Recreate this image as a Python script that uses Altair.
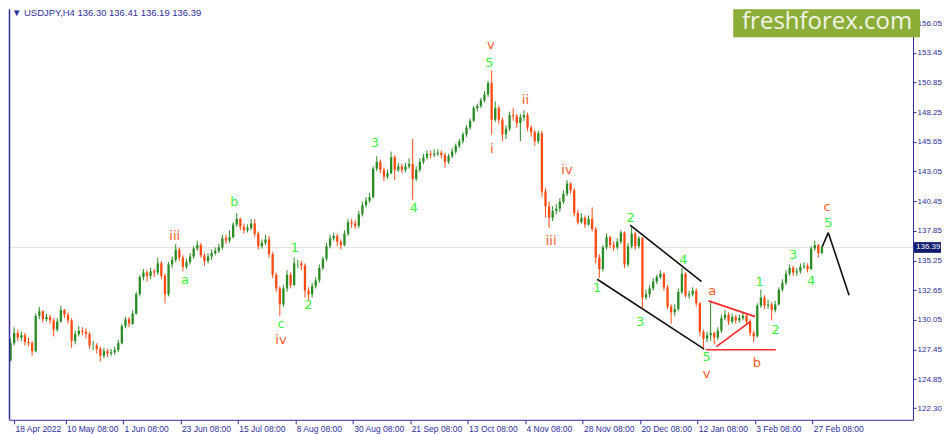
import altair as alt
import pandas as pd

# ---------------- data (daily candles) ----------------
first_open = 126.5
closes = [
    128.0, 128.9, 128.5, 128.7, 128.1, 128.0, 127.3, 130.4, 130.8, 130.1,
    130.3, 130.0, 129.2, 129.9, 130.9, 130.5, 130.0, 128.2, 128.8, 129.1,
    129.0, 128.8, 127.8, 127.8, 127.5, 126.9, 127.3, 127.1, 127.2, 127.4,
    128.0, 129.5, 130.1, 129.7, 130.6, 132.3, 133.8, 134.2, 133.9, 134.3,
    134.2, 135.0, 133.9, 132.3, 134.9, 135.3, 136.2, 135.5, 134.7, 135.1,
    135.6, 136.3, 136.6, 135.7, 135.2, 135.6, 135.9, 136.1, 136.4, 137.2,
    137.0, 137.3, 138.4, 138.9, 138.2, 137.9, 138.1, 138.5, 137.6, 136.5,
    136.8, 137.1, 135.8, 134.0, 132.8, 131.4, 132.8, 134.0, 133.1, 135.0,
    135.0, 134.8, 132.6, 132.3, 133.0, 133.5, 134.6, 135.4, 136.5, 137.2,
    137.4, 136.9, 136.6, 137.6, 138.6, 138.5, 138.3, 139.3, 140.1, 140.5,
    140.8, 143.3, 143.9, 143.2, 142.6, 142.9, 144.3, 143.2, 143.5, 143.2,
    143.5, 143.7, 142.4, 143.2, 143.9, 144.3, 144.6, 144.5, 144.6, 144.7,
    144.5, 143.9, 144.4, 144.8, 145.3, 145.7, 146.3, 146.9, 147.5, 148.6,
    148.8, 149.3, 149.8, 150.8, 147.6, 148.6, 147.6, 146.3, 146.8, 148.0,
    147.9, 147.3, 147.8, 148.0, 146.9, 146.5, 145.7, 146.4, 141.3, 140.0,
    139.0, 139.6, 139.8, 140.4, 141.1, 142.0, 141.4, 139.4, 138.6, 139.0,
    138.4, 138.9, 138.0, 135.5, 134.5, 136.4, 137.3, 136.6, 136.4, 136.9,
    137.7, 134.9, 136.5, 137.6, 136.5, 137.2, 132.0, 132.3, 132.8, 133.4,
    133.8, 134.1, 132.9, 131.2, 130.7, 131.0, 132.5, 134.1, 132.2, 132.3,
    132.6, 131.5, 129.0, 128.4, 128.7, 128.9, 128.5, 129.1, 130.2, 130.5,
    129.9, 130.3, 130.0, 130.2, 130.4, 129.9, 128.9, 128.6, 131.3, 132.0,
    131.3, 131.4, 130.9, 131.4, 132.7, 133.3, 134.1, 134.6, 134.2, 134.3,
    134.7, 134.8, 134.5, 136.3, 136.6, 135.9, 136.39,
]
highs = [
    128.4, 129.4, 129.2, 129.0, 128.9, 128.5, 128.2, 130.6, 131.2, 130.9,
    130.6, 130.5, 130.2, 130.2, 131.3, 131.0, 130.7, 130.2, 129.1, 129.5,
    129.4, 129.3, 129.0, 128.2, 128.0, 127.7, 127.6, 127.5, 127.5, 127.7,
    128.3, 129.7, 130.3, 130.3, 130.9, 132.5, 134.0, 134.5, 134.4, 134.6,
    134.5, 135.5, 135.2, 134.1, 135.1, 135.6, 136.7, 136.4, 135.7, 135.4,
    135.9, 136.5, 137.0, 136.8, 135.9, 135.9, 136.2, 136.4, 136.7, 137.5,
    137.5, 137.9, 138.6, 139.4, 139.0, 138.5, 138.4, 138.9, 138.9, 137.8,
    137.1, 137.5, 137.4, 136.0, 134.2, 133.0, 133.1, 134.4, 134.2, 135.5,
    135.3, 135.2, 135.0, 132.9, 133.3, 133.8, 134.9, 135.6, 136.8, 137.5,
    137.7, 137.6, 137.1, 137.9, 138.9, 138.9, 138.8, 139.6, 140.4, 140.8,
    141.2, 143.5, 144.4, 144.1, 143.4, 143.2, 144.8, 144.5, 143.8, 143.7,
    143.8, 144.2, 145.9, 143.5, 144.2, 144.6, 144.9, 144.9, 145.0, 145.0,
    144.9, 144.7, 144.6, 145.1, 145.5, 145.9, 146.5, 147.1, 147.7, 148.8,
    149.0, 149.5, 150.1, 151.0, 151.9, 149.2, 148.8, 147.8, 147.1, 148.3,
    148.6, 148.1, 148.1, 148.4, 148.2, 147.1, 146.7, 146.6, 146.6, 141.6,
    140.4, 140.0, 140.2, 140.7, 141.4, 142.3, 142.1, 141.6, 139.7, 139.4,
    139.2, 139.2, 139.9, 138.2, 135.8, 136.6, 137.6, 137.4, 136.9, 137.2,
    137.9, 137.8, 136.8, 138.2, 137.8, 137.4, 137.3, 132.7, 133.1, 133.7,
    134.0, 134.4, 134.2, 133.1, 131.4, 131.4, 132.8, 134.6, 134.2, 132.6,
    132.9, 132.8, 131.6, 129.2, 129.0, 131.6, 129.0, 129.4, 130.5, 130.9,
    130.7, 130.6, 130.5, 130.5, 130.7, 130.6, 130.1, 129.1, 131.5, 132.7,
    132.2, 131.8, 131.6, 131.7, 132.9, 133.6, 134.4, 134.9, 134.8, 134.6,
    135.0, 135.1, 135.0, 136.5, 137.0, 136.7, 136.5,
]
lows = [
    126.4, 127.8, 128.2, 128.2, 127.8, 127.7, 126.9, 127.2, 130.1, 129.8,
    129.9, 129.7, 128.6, 129.0, 129.8, 130.2, 129.7, 127.6, 127.9, 128.6,
    128.7, 128.4, 127.5, 127.4, 127.1, 126.4, 126.7, 126.8, 126.9, 127.0,
    127.2, 127.9, 129.3, 129.4, 129.6, 130.5, 132.1, 133.5, 133.4, 133.6,
    133.8, 134.0, 133.6, 131.5, 132.1, 134.6, 135.1, 135.2, 134.3, 134.5,
    134.9, 135.4, 136.1, 135.5, 134.8, 135.0, 135.3, 135.7, 135.9, 136.2,
    136.7, 136.8, 137.2, 138.2, 137.9, 137.6, 137.7, 137.9, 137.3, 136.2,
    136.3, 136.6, 135.5, 133.7, 132.5, 130.4, 131.2, 132.5, 132.8, 133.0,
    134.6, 134.4, 132.0, 131.7, 132.0, 132.8, 133.3, 134.4, 135.2, 136.3,
    137.0, 136.5, 136.2, 136.5, 137.4, 138.1, 138.0, 138.1, 139.1, 139.9,
    140.3, 140.7, 143.1, 142.9, 142.2, 142.4, 142.8, 142.3, 143.0, 142.9,
    143.0, 143.3, 140.6, 142.2, 143.0, 143.7, 144.1, 144.2, 144.3, 144.4,
    144.2, 143.4, 143.7, 144.2, 144.6, 145.1, 145.5, 146.1, 146.7, 147.4,
    148.3, 148.6, 149.1, 149.6, 146.3, 147.4, 147.2, 145.7, 145.9, 146.6,
    147.5, 146.9, 145.7, 147.5, 146.6, 146.1, 145.3, 145.5, 140.8, 139.0,
    138.1, 138.7, 139.3, 139.5, 140.2, 140.9, 141.1, 139.1, 138.4, 138.5,
    138.1, 138.3, 137.8, 135.0, 133.7, 134.3, 136.2, 136.3, 136.1, 136.2,
    136.7, 134.6, 134.7, 136.3, 136.2, 136.3, 131.1, 131.8, 132.0, 132.6,
    133.2, 133.6, 132.6, 131.0, 129.7, 130.4, 130.8, 132.3, 132.0, 131.9,
    132.1, 131.2, 128.6, 127.6, 128.1, 128.2, 127.9, 128.3, 128.9, 130.0,
    129.6, 129.7, 129.7, 129.8, 130.0, 129.6, 128.6, 128.1, 128.5, 131.1,
    131.0, 131.0, 130.0, 130.7, 131.3, 132.5, 133.1, 133.9, 133.9, 133.9,
    134.1, 134.5, 134.2, 134.4, 136.1, 135.5, 135.8,
]

x_tick_days = [0.951, 15.3, 31.3, 47.3, 63.3, 79.3, 95.3, 111.3, 127.3,
               143.3, 159.3, 175.3, 191.3, 207.3, 223.3]
x_tick_labels = ["18 Apr 2022", "10 May 08:00", "1 Jun 08:00", "23 Jun 08:00",
                 "15 Jul 08:00", "8 Aug 08:00", "30 Aug 08:00", "21 Sep 08:00",
                 "13 Oct 08:00", "4 Nov 08:00", "28 Nov 08:00", "20 Dec 08:00",
                 "12 Jan 08:00", "3 Feb 08:00", "27 Feb 08:00"]
y_ticks = [122.30, 124.85, 127.45, 130.05, 132.65, 135.25, 137.85, 140.45,
           143.05, 145.65, 148.25, 150.85, 153.45, 156.05]

wave_text = ["iii", "a", "b", "iv", "c", "1", "2", "3", "4", "v", "5", "i", "ii",
             "iii", "iv", "1", "2", "3", "4", "5", "v", "a", "b", "1", "2", "3",
             "4", "5", "c"]
wave_day = [45.72, 48.56, 62.32, 75.33, 75.33, 79.18, 82.95, 101.47, 112.32,
            133.78, 133.40, 134.06, 143.41, 150.57, 154.97, 163.39, 172.74,
            175.41, 187.44, 193.85, 193.85, 195.42, 207.89, 208.63, 213.11,
            217.98, 223.02, 227.78, 227.42]
wave_price = [137.40, 133.52, 140.40, 128.30, 129.70, 136.32, 131.36, 145.57,
              139.88, 154.10, 152.52, 144.99, 149.31, 136.96, 143.15, 132.82,
              138.95, 129.89, 135.27, 126.80, 125.28, 132.58, 126.30, 133.40,
              129.14, 135.73, 133.43, 138.50, 139.95]
wave_degree = ["minor", "sub", "sub", "minor", "sub", "sub", "sub", "sub", "sub",
               "minor", "sub", "minor", "minor", "minor", "minor", "sub", "sub",
               "sub", "sub", "sub", "minor", "minor", "minor", "sub", "sub", "sub",
               "sub", "sub", "minor"]

# trend lines: (day1, price1) -> (day2, price2), group
seg_day1 = [172.58, 163.39, 226.0, 227.78, 194.41, 196.61, 193.66]
seg_price1 = [138.36, 133.61, 136.39, 137.69, 131.71, 127.70, 127.42]
seg_day2 = [192.48, 193.22, 227.78, 233.56, 207.42, 206.05, 213.11]
seg_price2 = [133.40, 127.48, 137.69, 132.21, 130.33, 129.89, 127.42]
seg_group = ["black", "black", "black", "black", "red", "red", "red"]

symbol = "USDJPY,H4"
last_bar = [136.30, 136.41, 136.19, 136.39]
brand = "freshforex.com"

# ---------------- styling ----------------
PX_PER_DAY = 3.634
W, H = 905, 411
X_DOM = [0.951, 0.951 + W / PX_PER_DAY]
Y_DOM = [121.287, 157.276]
UP, DOWN = "#2A8C24", "#FF4A12"
LIME, ORANGE = "#3DEF3D", "#FF5A24"
NAVY = "#2E2E9E"
SMALL_FONT = "Liberation Sans, Arial, sans-serif"

xs = alt.Scale(domain=X_DOM, nice=False, zero=False)
ys = alt.Scale(domain=Y_DOM, nice=False, zero=False)
arr = "[" + ",".join("'" + s + "'" for s in x_tick_labels) + "]"
x_axis = alt.Axis(values=x_tick_days, labelExpr=arr + "[round((datum.value + 0.7) / 16)]",
                  title=None, grid=False, orient="bottom", domainColor=NAVY,
                  tickColor=NAVY, tickSize=4, labelColor=NAVY, labelFont=SMALL_FONT,
                  labelFontSize=8.5, labelAlign="left", labelPadding=1, labelOffset=1,
                  labelOverlap=False, labelFlush=False, labelBound=False)
y_axis = alt.Axis(values=y_ticks, labelExpr="format(datum.value, '.2f')", title=None,
                  grid=False, orient="right", domainColor=NAVY, tickColor=NAVY,
                  tickSize=3, labelColor=NAVY, labelFont=SMALL_FONT, labelFontSize=8,
                  labelPadding=1, labelOverlap=False, labelFlush=False, labelBound=False)

opens = [first_open] + closes[:-1]
candles = pd.DataFrame({"i": list(range(len(closes))), "open": opens, "close": closes,
                        "high": highs, "low": lows})
candles["col"] = [UP if c >= o else DOWN for o, c in zip(opens, closes)]

X = lambda f: alt.X(f, scale=xs, axis=x_axis)
Y = lambda f: alt.Y(f, scale=ys, axis=y_axis)

last_df = pd.DataFrame({"p": [last_bar[3]], "txt": [format(last_bar[3], ".2f")]})
price_line = alt.Chart(last_df).mark_rule(color="#E4E4E4", strokeWidth=1).encode(
    y=Y("p:Q"), x=alt.value(0), x2=alt.value(W))

wick = alt.Chart(candles).mark_rule(strokeWidth=1).encode(
    x=X("i:Q"), y=Y("low:Q"), y2="high:Q", color=alt.Color("col:N", scale=None))
body = alt.Chart(candles).mark_bar(size=2.3).encode(
    x=X("i:Q"), y=Y("open:Q"), y2="close:Q", color=alt.Color("col:N", scale=None))

segs = pd.DataFrame({"d1": seg_day1, "p1": seg_price1, "d2": seg_day2, "p2": seg_price2,
                     "g": seg_group})
segs["col"] = segs["g"].map({"black": "#111111", "red": "#FF2A2A"})
seg_layer = alt.Chart(segs).mark_rule(strokeWidth=1.6).encode(
    x=X("d1:Q"), y=Y("p1:Q"), x2="d2:Q", y2="p2:Q", color=alt.Color("col:N", scale=None))

waves = pd.DataFrame({"t": wave_text, "d": wave_day, "p": wave_price, "deg": wave_degree})
waves["col"] = waves["deg"].map({"minor": ORANGE, "sub": LIME})
wave_layer = alt.Chart(waves).mark_text(font="DejaVu Sans", fontSize=13,
                                        baseline="middle", align="center").encode(
    x=X("d:Q"), y=Y("p:Q"), text="t:N", color=alt.Color("col:N", scale=None))

left_border = alt.Chart(last_df).mark_rule(color=NAVY, strokeWidth=1.5).encode(
    x=alt.value(0.5), y=alt.value(0), y2=alt.value(H))

title_df = pd.DataFrame({"t": ["\u25bc " + symbol + "  " + " ".join(format(v, ".2f") for v in last_bar)]})
title_layer = alt.Chart(title_df).mark_text(align="left", baseline="middle", font=SMALL_FONT,
                                            fontSize=9.5, color=NAVY).encode(
    x=alt.value(3), y=alt.value(4), text="t:N")

brand_df = pd.DataFrame({"t": [brand]})
brand_box = alt.Chart(brand_df).mark_rect(color="#8CAE38").encode(
    x=alt.value(725), x2=alt.value(W + 7), y=alt.value(0), y2=alt.value(28))
brand_text = alt.Chart(brand_df).mark_text(font="Open Sans", fontSize=24, color="#F2F5E8",
                                           align="center", baseline="alphabetic").encode(
    x=alt.value(819), y=alt.value(20), text="t:N")

tag_box = alt.Chart(last_df).transform_calculate(
    lo="datum.p - 0.47", hi="datum.p + 0.47").mark_rect(color="#101C6E").encode(
    x=alt.value(W + 1), x2=alt.value(W + 28), y=Y("lo:Q"), y2="hi:Q")
tag_text = alt.Chart(last_df).mark_text(align="left", baseline="middle", font=SMALL_FONT,
                                        fontSize=8, color="white").encode(
    x=alt.value(W + 3), y=Y("p:Q"), text="txt:N")

chart = alt.layer(price_line, seg_layer.transform_filter("datum.g == 'black'"), wick, body,
                  seg_layer.transform_filter("datum.g == 'red'"), wave_layer, left_border,
                  title_layer, brand_box, brand_text, tag_box, tag_text).properties(
    width=W, height=H, padding=0, background="white"
).configure_view(stroke=None)

chart.save("out.html", embed_options={"renderer": "svg", "actions": False})
